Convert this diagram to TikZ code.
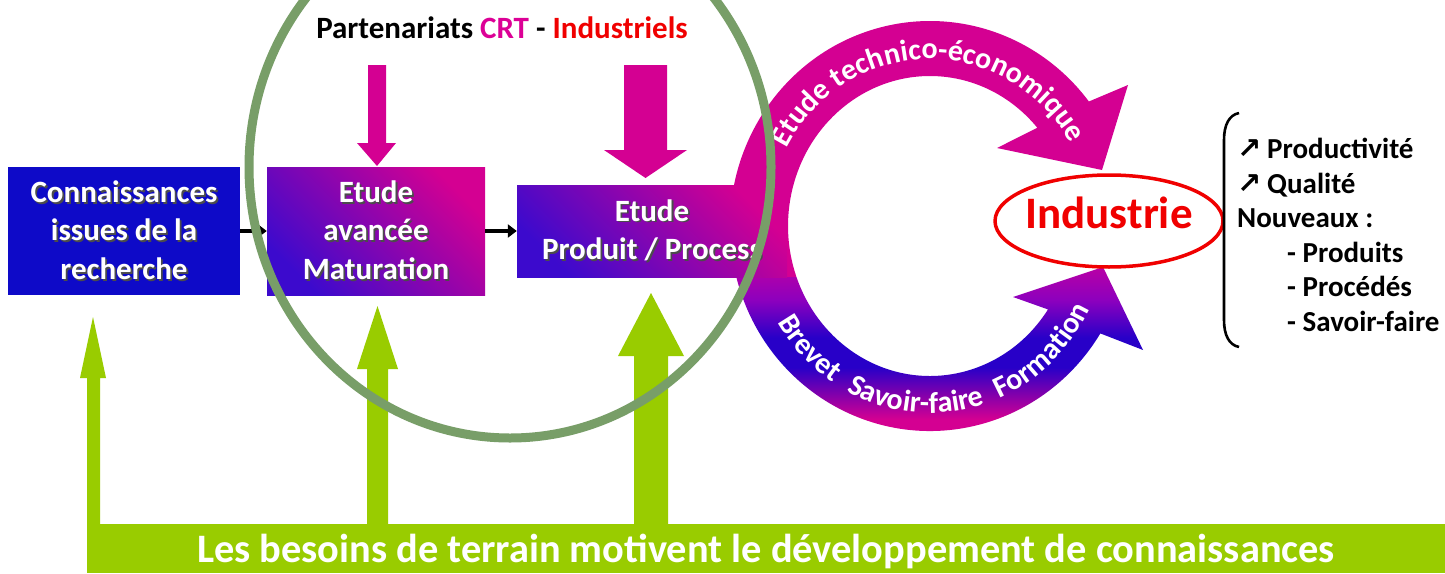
\documentclass[tikz,border=0pt]{standalone}
\usepackage{fontspec}
\setmainfont{Carlito}
\newfontfamily\djf{DejaVu Sans}
\usetikzlibrary{arrows.meta,calc,shapes.geometric,decorations.text}

\definecolor{mag}{RGB}{212,0,146}
\definecolor{blu}{RGB}{14,10,200}
\definecolor{vio}{RGB}{60,10,205}
\definecolor{blu2}{RGB}{40,0,200}
\definecolor{pur}{RGB}{140,0,190}
\definecolor{pur2}{RGB}{185,0,165}
\definecolor{grn}{RGB}{153,204,0}
\definecolor{sage}{RGB}{120,158,104}
\definecolor{crt}{RGB}{220,0,150}
\definecolor{rd}{RGB}{240,0,0}

\pgfdeclareverticalshading{lowarc}{100bp}{color(0bp)=(mag); color(34bp)=(mag); color(48bp)=(blu2); color(56bp)=(blu2); color(66bp)=(pur); color(75bp)=(pur2); color(100bp)=(pur2)}

\newcommand\shd[1]{\rlap{\textcolor{black!70}{\kern1.8pt\raisebox{-1.8pt}{#1}}}#1}
\newcommand\uparw{\makebox[30pt][l]{\djf\bfseries\fontsize{29}{29}\selectfont ↗}}
\newcommand\arcfont{\fontsize{30}{30}\selectfont\bfseries}

\begin{document}
\begin{tikzpicture}[x=1pt,y=1pt,
  boxtxt/.style={text=white, font=\fontsize{31}{38.5}\selectfont\bfseries, align=center, inner sep=0pt},
  bluebox/.style={boxtxt, fill=blu},
  gradbox/.style={boxtxt, top color=mag, bottom color=vio, shading angle=-45},
  blk/.style={line width=3.2pt, -{Triangle[length=9pt,width=13pt]}},
  arctext/.style={decorate, decoration={text along path, text align=center, text color=white, text={|\arcfont|#1}}},
  magarrow/.style={fill=mag},
  grnarrow/.style={fill=grn}]

\useasboundingbox (0,0) rectangle (1445,-573);
\fill[white] (0,0) rectangle (1445,-573);

% green bar and arrows
\node[fill=grn, minimum width=1358pt, minimum height=49pt, inner sep=0pt, text=white,
      font=\fontsize{40.4}{40.4}\selectfont\bfseries, text height=27pt, text depth=0pt]
      (bar) at (766,-548.5) {Les besoins de terrain motivent le développement de connaissances};
\fill[grnarrow] (87,-524) -- (87,-378) -- (80,-378) -- (93,-317) -- (106,-378) -- (100,-378) -- (100,-524) -- cycle;
\fill[grnarrow] (367,-524) -- (367,-369) -- (357,-369) -- (377.5,-306) -- (398,-369) -- (388,-369) -- (388,-524) -- cycle;
\fill[grnarrow] (634,-524) -- (634,-356) -- (618,-356) -- (651,-293) -- (684,-356) -- (668,-356) -- (668,-524) -- cycle;

% title and magenta arrows
\node[font=\fontsize{31}{31}\selectfont\bfseries, anchor=base, inner sep=0pt] (title) at (502,-38)
  {Partenariats \textcolor{crt}{CRT} - \textcolor{rd}{Industriels}};
\fill[magarrow] (368,-65) -- (386,-65) -- (386,-143) -- (396,-143) -- (377,-166) -- (357,-143) -- (368,-143) -- cycle;
\fill[magarrow] (624,-65) -- (667,-65) -- (667,-150) -- (687,-150) -- (645.5,-178) -- (604,-150) -- (624,-150) -- cycle;

% boxes 1 and 2
\node[bluebox, minimum width=232pt, minimum height=128pt] (b1) at (124,-231)
  {\shd{Connaissances}\\\shd{issues de la}\\\shd{recherche}};
\node[gradbox, minimum width=218pt, minimum height=128pt] (b2) at (376,-231)
  {\shd{Etude}\\\shd{avancée}\\\shd{Maturation}};

% curved arrows
\coordinate (c) at (930,-226);
\fill[mag] ($(c)+(194.4:200 and 205)$) arc[start angle=194.4, end angle=37.4, x radius=200, y radius=205]
  -- (1128,-85) -- (1102,-170) -- (997,-148)
  -- ($(c)+(40.9:142 and 150)$) arc[start angle=40.9, end angle=199.9, x radius=142, y radius=150] -- cycle;
\shade[shading=lowarc] ($(c)+(194.4:200 and 205)$) arc[start angle=194.4, end angle=328.4, x radius=200, y radius=205]
  -- (1143,-350) -- (1103,-267) -- (1013,-297)
  -- ($(c)+(326.2:142 and 150)$) arc[start angle=326.2, end angle=199.9, x radius=142, y radius=150] -- cycle;

% box 3
\node[gradbox, minimum width=270pt, minimum height=92pt] (b3) at (652,-231)
  {\shd{Etude}\\\shd{Produit / Process}};

% small arrows
\draw[blk] (b1.east) -- (b2.west);
\draw[blk] (b2.east) -- (b3.west);

% texts on arcs
\path[arctext={Etude technico-économique}] ($(c)+(165:162 and 167)$) arc[start angle=165, end angle=17, x radius=162, y radius=167];
\path[arctext={Brevet}] ($(c)+(202:178 and 187)$) arc[start angle=202, end angle=246, x radius=178, y radius=187];
\path[arctext={Savoir-faire}] ($(c)+(238:178 and 187)$) arc[start angle=238, end angle=292, x radius=178, y radius=187];
\path[arctext={Formation}] ($(c)+(280:178 and 187)$) arc[start angle=280, end angle=346, x radius=178, y radius=187];

% Industrie
\node[ellipse, draw=rd, line width=3.5pt, text=rd, font=\fontsize{45}{45}\selectfont\bfseries,
      minimum width=228pt, minimum height=92pt, inner sep=0pt, inner xsep=-5pt,
      text height=26pt, text depth=12pt] (ind) at (1109,-221) {Industrie};

% bracket and list
\draw[line width=2.6pt] (1239,-113) .. controls (1229,-115) and (1224,-125) .. (1224,-140)
  -- (1224,-320) .. controls (1224,-335) and (1229,-345) .. (1239,-347);
\node[anchor=north west, inner sep=0pt, align=left, font=\fontsize{29}{34.5}\selectfont\bfseries] (lst) at (1237,-138)
  {\uparw Productivité\\\uparw Qualité\\Nouveaux :\\\hspace*{50pt}- Produits\\\hspace*{50pt}- Procédés\\\hspace*{50pt}- Savoir-faire};

% green circle
\draw[sage, line width=9pt] (510,-167) ellipse [x radius=261, y radius=271];
\end{tikzpicture}
\end{document}
